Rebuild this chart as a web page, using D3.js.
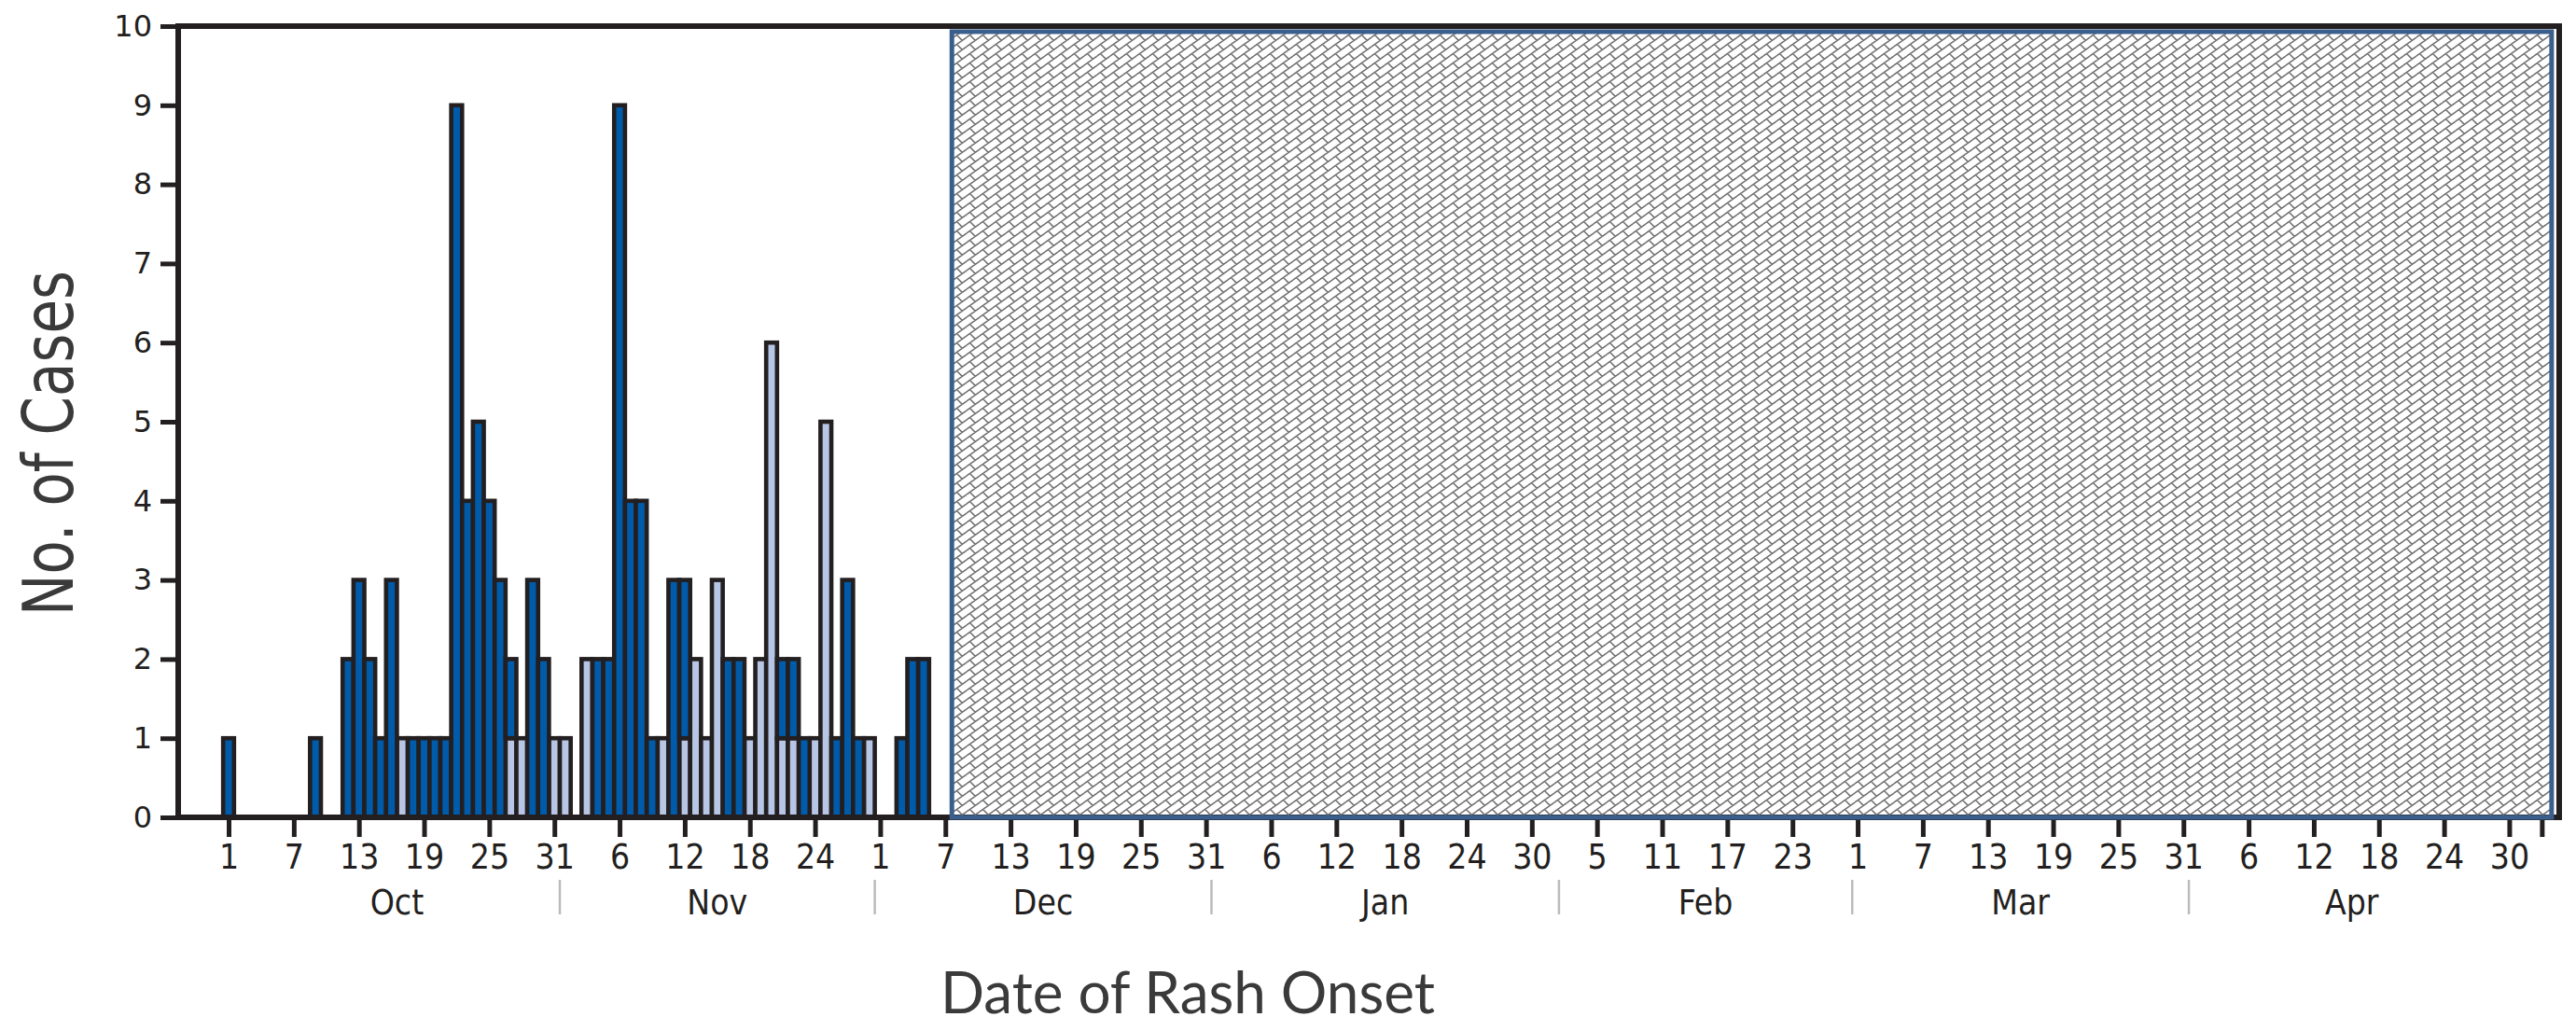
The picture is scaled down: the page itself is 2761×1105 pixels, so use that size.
<!DOCTYPE html>
<html>
<head>
<meta charset="utf-8">
<script src="https://cdn.jsdelivr.net/npm/d3@7"></script>
<style>
body { margin: 0; background: #fff; }
.narrow { font-family: "Liberation Sans Narrow", "DejaVu Sans Condensed", "Roboto", sans-serif; font-stretch: condensed; }
</style>
</head>
<body>
<svg id="chart" width="2761" height="1105"></svg>
<script>
// day index 0 = Oct 1 ; cases by rash onset date
const darkCases = [1,0,0,0,0,0,0,0,1,0, 0,2,3,2,1,3,0,1,1,1, 1,9,4,5,4,3,1,0,3,2,
                   0,0,0,0,2,2,9,4,4,1, 0,3,2,0,0,0,2,2,0,0, 0,1,1,1,0,0,1,3,1,0, 0,0,1,2,2];
const lightCases = [0,0,0,0,0,0,0,0,0,0, 0,0,0,0,0,0,1,0,0,0, 0,0,0,0,0,0,1,1,0,0,
                    1,1,0,2,0,0,0,0,0,0, 1,0,1,2,1,3,0,0,1,2, 6,1,1,0,1,5,0,0,0,1, 0,0,0,0,0];
const tickLabels = ["1","7","13","19","25","31","6","12","18","24","1","7","13","19","25","31",
                    "6","12","18","24","30","5","11","17","23","1","7","13","19","25","31",
                    "6","12","18","24","30"];
const tickDays = tickLabels.map((d, i) => i * 6);
const months = ["Oct","Nov","Dec","Jan","Feb","Mar","Apr"];
const monthBounds = [0.5, 30.5, 59.5, 90.5, 122.5, 149.5, 180.5, 210.5];
const yTicks = d3.range(0, 11);
// period still being reported (hatched)
const pendingStart = 66.6, pendingEnd = 213.9, pendingTop = 9.93;

const data = darkCases.map((d, i) => ({day: i, light: lightCases[i], dark: d}));

const svg = d3.select("#chart");
const x = d3.scaleLinear().domain([-4.64, 214.6]).range([191, 2743]);
const y = d3.scaleLinear().domain([0, 10]).range([876, 28]);
const dayW = x(1) - x(0);

const defs = svg.append("defs");
const pat = defs.append("pattern")
  .attr("id", "hatch").attr("patternUnits", "userSpaceOnUse")
  .attr("width", 14).attr("height", 10);
const segs = [[0,10,14,0],[3.5,7.5,9.1,13.1]];
let pd = "";
[-14,0,14].forEach(dx => [-10,0,10].forEach(dy => {
  segs.forEach(s => { pd += `M${s[0]+dx},${s[1]+dy}L${s[2]+dx},${s[3]+dy}`; });
}));
pat.append("path").attr("d", pd).attr("stroke", "#6f6f6f").attr("stroke-width", 1.5).attr("fill", "none");

// bars
const stack = d3.stack().keys(["light","dark"])(data);
const colors = {light: "#b8c6e6", dark: "#005baa"};
svg.append("g").selectAll("g").data(stack).join("g")
  .attr("fill", s => colors[s.key])
  .selectAll("rect").data(s => s.filter(d => d[1] > d[0])).join("rect")
  .attr("x", d => x(d.data.day) - dayW / 2)
  .attr("width", dayW)
  .attr("y", d => y(d[1]))
  .attr("height", d => y(d[0]) - y(d[1]))
  .attr("stroke", "#231f20").attr("stroke-width", 4.6);

// frame
svg.append("rect")
  .attr("x", x.range()[0]).attr("y", y(10))
  .attr("width", x.range()[1] - x.range()[0]).attr("height", y(0) - y(10))
  .attr("fill", "none").attr("stroke", "#231f20").attr("stroke-width", 6);

// x axis
const xAxis = d3.axisBottom(x)
  .tickValues(tickDays.concat([213]))
  .tickFormat((d, i) => tickLabels[i] || "")
  .tickSize(21).tickPadding(8);
const gx = svg.append("g").attr("transform", `translate(0,${y(0)})`).call(xAxis);
gx.select(".domain").remove();
gx.selectAll(".tick line").attr("stroke", "#231f20").attr("stroke-width", 5);
gx.selectAll(".tick text").attr("class", "narrow").attr("font-size", 37).attr("fill", "#231f20");

// hatched box
svg.append("rect")
  .attr("x", x(pendingStart)).attr("y", y(pendingTop))
  .attr("width", x(pendingEnd) - x(pendingStart)).attr("height", y(0) - y(pendingTop))
  .attr("fill", "url(#hatch)").attr("stroke", "#3b5f8c").attr("stroke-width", 5);

// y axis
const yAxis = d3.axisLeft(y).tickValues(yTicks).tickSize(19).tickPadding(9);
const gy = svg.append("g").attr("transform", `translate(${x.range()[0]},0)`).call(yAxis);
gy.select(".domain").remove();
gy.selectAll(".tick line").attr("stroke", "#231f20").attr("stroke-width", 5);
gy.selectAll(".tick text").attr("font-family", "DejaVu Sans, Verdana, sans-serif")
  .attr("font-size", 32).attr("fill", "#231f20");

// month labels and separators
const gm = svg.append("g");
gm.selectAll("line").data(monthBounds.slice(1, -1)).join("line")
  .attr("x1", d => x(d)).attr("x2", d => x(d))
  .attr("y1", 943).attr("y2", 980)
  .attr("stroke", "#bbbbbb").attr("stroke-width", 2.5);
gm.selectAll("text").data(months).join("text")
  .attr("class", "narrow")
  .attr("x", (d, i) => x((monthBounds[i] + monthBounds[i + 1]) / 2))
  .attr("y", 980).attr("text-anchor", "middle")
  .attr("font-size", 37).attr("fill", "#231f20")
  .text(d => d);

// axis titles
svg.append("text")
  .attr("class", "narrow")
  .attr("transform", "translate(78,475) rotate(-90)")
  .attr("text-anchor", "middle").attr("font-size", 74).attr("fill", "#3a3a3a")
  .attr("textLength", 370).attr("lengthAdjust", "spacingAndGlyphs")
  .text("No. of Cases");
svg.append("text")
  .attr("x", 1273).attr("y", 1086).attr("text-anchor", "middle")
  .attr("font-family", "Lato, Open Sans, sans-serif")
  .attr("font-size", 62).attr("fill", "#3a3a3a")
  .text("Date of Rash Onset");
</script>
</body>
</html>
